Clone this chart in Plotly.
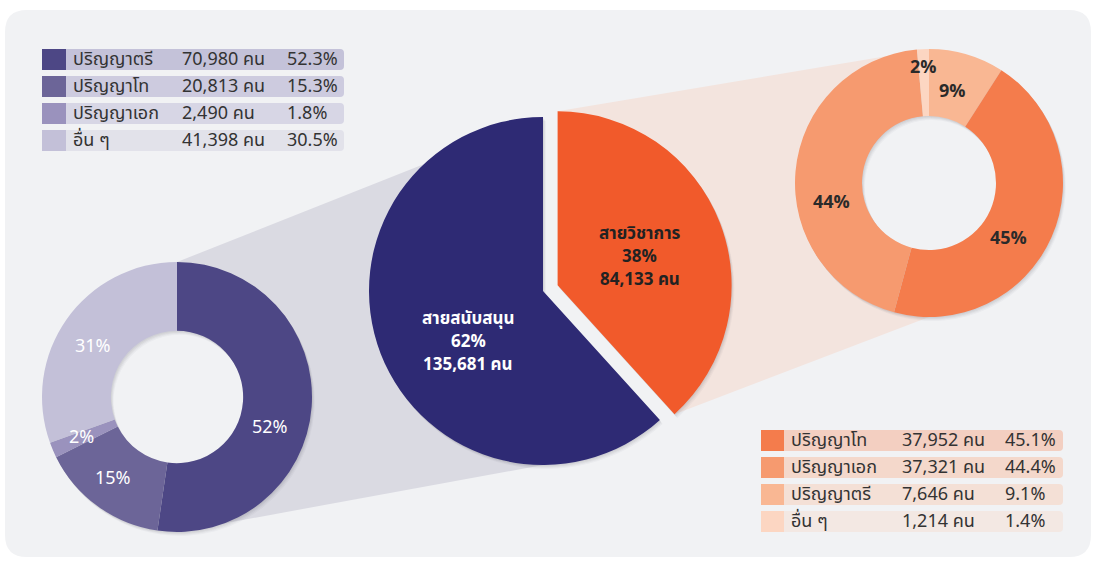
import math
import plotly.graph_objects as go

W, H = 1094, 565

# ---------------- data ----------------
main_labels = ["สายวิชาการ", "สายสนับสนุน"]
main_values = [84133, 135681]
main_pct_text = ["38%", "62%"]
main_count_text = ["84,133 คน", "135,681 คน"]

# support staff (left donut), clockwise from 12 o'clock
sup_labels = ["ปริญญาตรี", "ปริญญาโท", "ปริญญาเอก", "อื่น ๆ"]
sup_values = [70980, 20813, 2490, 41398]
sup_pct_labels = ["52%", "15%", "2%", "31%"]

# academic staff (right donut), clockwise from 12 o'clock
aca_labels = ["ปริญญาตรี", "ปริญญาโท", "ปริญญาเอก", "อื่น ๆ"]
aca_values = [7646, 37952, 37321, 1214]
aca_pct_labels = ["9%", "45%", "44%", "2%"]

# legend tables
sup_table_labels = ["ปริญญาตรี", "ปริญญาโท", "ปริญญาเอก", "อื่น ๆ"]
sup_table_counts = ["70,980 คน", "20,813 คน", "2,490 คน", "41,398 คน"]
sup_table_pcts = ["52.3%", "15.3%", "1.8%", "30.5%"]

aca_table_labels = ["ปริญญาโท", "ปริญญาเอก", "ปริญญาตรี", "อื่น ๆ"]
aca_table_counts = ["37,952 คน", "37,321 คน", "7,646 คน", "1,214 คน"]
aca_table_pcts = ["45.1%", "44.4%", "9.1%", "1.4%"]

# ---------------- style ----------------
main_colors = ["#f15a2b", "#2e2a74"]
sup_colors = ["#4d4785", "#6c6598", "#9a92bd", "#c3c0d8"]
aca_colors = ["#f9b793", "#f47c4c", "#f69a6f", "#fcd6c2"]
sup_table_swatch = ["#4d4785", "#6c6598", "#9a92bd", "#c3c0d8"]
sup_table_bg = ["#c4c2d9", "#cdcbdf", "#d7d6e5", "#e2e2ea"]
aca_table_swatch = ["#f47c4c", "#f69a6f", "#f9b793", "#fcd6c2"]
aca_table_bg = ["#f3cfc1", "#f4d8cb", "#f4e0d6", "#f3e8e3"]

# label placement nudges (angle degrees, radius factor) per slice
sup_nudge = [(14, 0.97), (2, 1.03), (0, 1.03), (-4, 0.98)]
aca_nudge = [(-2, 0.94), (11, 0.96), (-16.5, 0.99), (0, 1.15)]
main_nudge = [(2, 0.5), (-13, 0.52)]

FONT = "Noto Sans Thai, Noto Sans, Open Sans, sans-serif"
TXT = "#333333"
PANEL = "#f1f2f4"

MAIN_C, MAIN_R, MAIN_PULL = (543, 291), 174, 0.09
SUP_C, SUP_R, SUP_HOLE = (177, 397), 135, 0.49
ACA_C, ACA_R, ACA_HOLE = (929, 183), 134, 0.50


def px(x, y):
    return x / W, 1 - y / H


def domain(c, r, pull=0.0, dx=0.0, dy=0.0):
    half = r * (1 + pull)
    cx, cy = c[0] + dx, c[1] + dy
    return dict(x=[(cx - half) / W, (cx + half) / W],
                y=[1 - (cy + half) / H, 1 - (cy - half) / H])


def pt(c, r, theta):
    t = math.radians(theta)
    return c[0] + r * math.sin(t), c[1] - r * math.cos(t)


def P(x, y):
    a, b = px(x, y)
    return f"{a:.5f},{b:.5f}"


def path_poly(points):
    s = ""
    for i, (x, y) in enumerate(points):
        s += ("M" if i == 0 else "L") + P(x, y) + " "
    return s + "Z"


def rrect_path(x0, y0, x1, y1, r, left=True, right=True):
    rl = r if left else 0
    rr = r if right else 0
    s = f"M{P(x0 + rl, y0)} L{P(x1 - rr, y0)} "
    if rr:
        s += f"Q{P(x1, y0)} {P(x1, y0 + rr)} "
    s += f"L{P(x1, y1 - rr)} "
    if rr:
        s += f"Q{P(x1, y1)} {P(x1 - rr, y1)} "
    s += f"L{P(x0 + rl, y1)} "
    if rl:
        s += f"Q{P(x0, y1)} {P(x0, y1 - rl)} "
    s += f"L{P(x0, y0 + rl)} "
    if rl:
        s += f"Q{P(x0, y0)} {P(x0 + rl, y0)} "
    return s + "Z"


def text_at(x, y, t, size, color, xanchor="center"):
    xp, yp = px(x, y)
    return dict(x=xp, y=yp, xref="paper", yref="paper", showarrow=False,
                xanchor=xanchor, yanchor="middle", text=t, borderpad=0,
                font=dict(family=FONT, size=size, color=color))


fig = go.Figure()

# ---------------- soft shadows (stacked translucent copies) ----------------
for off, alpha in [(1, 0.05), (2, 0.05), (3, 0.04), (4, 0.03)]:
    sh = f"rgba(40,40,60,{alpha})"
    fig.add_trace(go.Pie(values=main_values, sort=False, direction="clockwise",
                         pull=[MAIN_PULL, 0], marker=dict(colors=[sh, sh], line=dict(width=0)),
                         textinfo="none", hoverinfo="skip",
                         domain=domain(MAIN_C, MAIN_R, MAIN_PULL, off * 0.7, off), showlegend=False))
    fig.add_trace(go.Pie(values=sup_values, sort=False, hole=SUP_HOLE, direction="clockwise",
                         marker=dict(colors=[sh] * 4, line=dict(width=0)),
                         textinfo="none", hoverinfo="skip",
                         domain=domain(SUP_C, SUP_R, 0, off * 0.7, off), showlegend=False))
    fig.add_trace(go.Pie(values=aca_values, sort=False, hole=ACA_HOLE, direction="clockwise",
                         marker=dict(colors=[sh] * 4, line=dict(width=0)),
                         textinfo="none", hoverinfo="skip",
                         domain=domain(ACA_C, ACA_R, 0, off * 0.7, off), showlegend=False))

# ---------------- pies ----------------
fig.add_trace(go.Pie(labels=main_labels, values=main_values, sort=False,
                     direction="clockwise", rotation=0, pull=[MAIN_PULL, 0],
                     marker=dict(colors=main_colors, line=dict(width=0)),
                     textinfo="none", hoverinfo="label+value+percent",
                     domain=domain(MAIN_C, MAIN_R, MAIN_PULL), showlegend=False))
fig.add_trace(go.Pie(labels=sup_labels, values=sup_values, sort=False, hole=SUP_HOLE,
                     direction="clockwise", rotation=0,
                     marker=dict(colors=sup_colors, line=dict(width=0)),
                     textinfo="none", hoverinfo="label+value+percent",
                     domain=domain(SUP_C, SUP_R), showlegend=False))
fig.add_trace(go.Pie(labels=aca_labels, values=aca_values, sort=False, hole=ACA_HOLE,
                     direction="clockwise", rotation=0,
                     marker=dict(colors=aca_colors, line=dict(width=0)),
                     textinfo="none", hoverinfo="label+value+percent",
                     domain=domain(ACA_C, ACA_R), showlegend=False))

shapes = []
annots = []

# panel background
shapes.append(dict(type="path", xref="paper", yref="paper", layer="below",
                   path=rrect_path(5, 10, 1091, 557, 22),
                   fillcolor=PANEL, line=dict(width=0)))

# geometry of main pie
tot = sum(main_values)
a_end = main_values[0] / tot * 360
mid0 = a_end / 2
oc = (MAIN_C[0] + MAIN_PULL * MAIN_R * math.sin(math.radians(mid0)),
      MAIN_C[1] - MAIN_PULL * MAIN_R * math.cos(math.radians(mid0)))

# connector: left donut -> main pie
conn_left = [pt(SUP_C, SUP_R, 0), pt(MAIN_C, MAIN_R, 0),
             pt(MAIN_C, MAIN_R, 180), pt(SUP_C, SUP_R, 180)]
shapes.append(dict(type="path", xref="paper", yref="paper", layer="below",
                   path=path_poly(conn_left), fillcolor="#dadae2", line=dict(width=0)))
# connector: orange slice -> right donut
conn_right = [pt(oc, MAIN_R, 0), pt(ACA_C, ACA_R, 0),
              pt(ACA_C, ACA_R, 180), pt(oc, MAIN_R, a_end)]
shapes.append(dict(type="path", xref="paper", yref="paper", layer="below",
                   path=path_poly(conn_right), fillcolor="#f3e4de", line=dict(width=0)))

# donut holes show the panel colour
for c, r, hole in [(SUP_C, SUP_R, SUP_HOLE), (ACA_C, ACA_R, ACA_HOLE)]:
    hr = r * hole
    a0, b0 = px(c[0] - hr, c[1] + hr)
    a1, b1 = px(c[0] + hr, c[1] - hr)
    shapes.append(dict(type="circle", xref="paper", yref="paper", layer="below",
                       x0=a0, y0=b0, x1=a1, y1=b1, fillcolor=PANEL, line=dict(width=0)))

# main pie labels (three lines each)
navy_mid = a_end + (360 - a_end) / 2
LINE = 23
for c, mid, i, col in [(oc, mid0, 0, "#222222"), (MAIN_C, navy_mid, 1, "#ffffff")]:
    da, f = main_nudge[i]
    x, y = pt(c, MAIN_R * f, mid + da)
    for k, t in enumerate([main_labels[i], main_pct_text[i], main_count_text[i]]):
        annots.append(text_at(x, y + (k - 1) * LINE, f"<b>{t}</b>", 17, col))


def donut_labels(c, r, hole, values, texts, nudges, color, bold):
    total = sum(values)
    acc = 0
    rm = r * (1 + hole) / 2
    for v, t, (da, f) in zip(values, texts, nudges):
        mid = (acc + v / 2) / total * 360
        acc += v
        x, y = pt(c, rm * f, mid + da)
        annots.append(text_at(x, y, f"<b>{t}</b>" if bold else t, 18, color))


donut_labels(SUP_C, SUP_R, SUP_HOLE, sup_values, sup_pct_labels, sup_nudge, "#ffffff", False)
donut_labels(ACA_C, ACA_R, ACA_HOLE, aca_values, aca_pct_labels, aca_nudge, "#2a2a2a", True)


def table(x0, sw, x1, y_first, labels, counts, pcts, swatches, bgs, cx_count, cx_pct):
    row_h, step = 21, 27
    for i in range(len(labels)):
        yt = y_first + i * step
        shapes.append(dict(type="path", xref="paper", yref="paper", layer="below",
                           path=rrect_path(x0, yt, x1, yt + row_h, 4, left=False),
                           fillcolor=bgs[i], line=dict(width=0)))
        a0, b0 = px(x0, yt)
        a1, b1 = px(x0 + sw, yt + row_h)
        shapes.append(dict(type="rect", xref="paper", yref="paper", layer="below",
                           x0=a0, y0=b0, x1=a1, y1=b1,
                           fillcolor=swatches[i], line=dict(width=0)))
        yc = yt + row_h / 2
        for xx, t in [(x0 + sw + 6, labels[i]), (cx_count, counts[i]), (cx_pct, pcts[i])]:
            annots.append(text_at(xx, yc, t, 18, TXT, xanchor="left"))


table(42, 24, 344, 49, sup_table_labels, sup_table_counts, sup_table_pcts,
      sup_table_swatch, sup_table_bg, 181, 286)
table(761, 23, 1063, 430, aca_table_labels, aca_table_counts, aca_table_pcts,
      aca_table_swatch, aca_table_bg, 901, 1004)

fig.update_layout(width=W, height=H, margin=dict(l=0, r=0, t=0, b=0),
                  paper_bgcolor="#ffffff", plot_bgcolor="rgba(0,0,0,0)",
                  shapes=shapes, annotations=annots, showlegend=False,
                  xaxis=dict(visible=False), yaxis=dict(visible=False),
                  font=dict(family=FONT))

fig.write_html("out.html", config={"displayModeBar": False},
               post_script="document.body.style.margin='0';")
